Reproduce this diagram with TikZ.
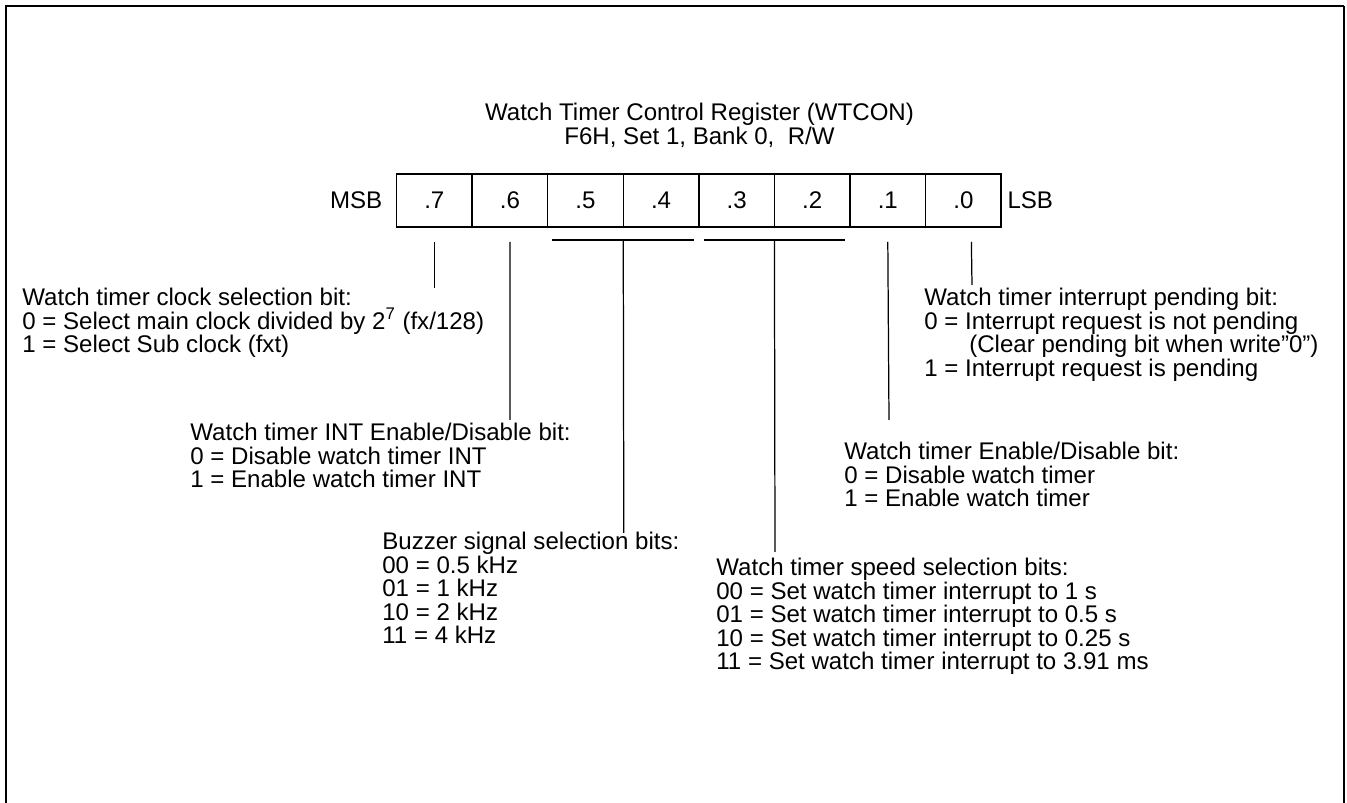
\documentclass[tikz,border=0pt]{standalone}
\usepackage{fontspec}
\setmainfont{Liberation Sans}
\usetikzlibrary{positioning}

\begin{document}
\begin{tikzpicture}[
  x=0.02cm,y=-0.02cm,
  font=\fontsize{13.7pt}{13.4pt}\selectfont,
  cell/.style={rectangle,draw,line width=0.8pt,minimum width=1.512cm,minimum height=1.06cm,inner sep=0pt,outer sep=0pt},
  side/.style={inner sep=0pt},
  note/.style={anchor=base west,align=left,inner sep=0pt},
  lead/.style={line width=0.7pt}
]
\useasboundingbox (0,0) rectangle (1347,803);
\draw[line width=1.2pt] (6,803) -- (6,6) -- (1344,6);
\draw[line width=0.6pt] (1344,6) -- (1344,803);

\node[align=center,anchor=base,inner sep=0pt] (title) at (699.5,144.5) {Watch Timer Control Register (WTCON)\\F6H, Set 1, Bank 0,\ \ R/W};

\node[cell] (b7) at (434.3,200.5) {.7};
\node[cell,right=0pt of b7] (b6) {.6};
\node[cell,right=0pt of b6] (b5) {.5};
\node[cell,right=0pt of b5] (b4) {.4};
\node[cell,right=0pt of b4] (b3) {.3};
\node[cell,right=0pt of b3] (b2) {.2};
\node[cell,right=0pt of b2] (b1) {.1};
\node[cell,right=0pt of b1] (b0) {.0};
\node[side,left=0.28cm of b7] (msb) {MSB};
\node[side,right=0.12cm of b0] (lsb) {LSB};

\coordinate (e7) at (434.3,288);
\coordinate (e6) at (510,420);
\coordinate (e54) at (623.8,533);
\coordinate (e32) at (775,552);
\coordinate (e1) at (889,420);
\coordinate (e0) at (972,285);
\draw[lead] ([yshift=-0.3cm]b7.south) -- (e7);
\draw[lead] ([yshift=-0.3cm]b6.south) -- (e6);
\draw[lead] ([shift={(0.08cm,-0.26cm)}]b5.south west) -- ([shift={(-0.09cm,-0.26cm)}]b4.south east);
\draw[lead] ([yshift=-0.26cm]b5.south east) -- (e54);
\draw[lead] ([shift={(0.11cm,-0.26cm)}]b3.south west) -- ([shift={(-0.1cm,-0.26cm)}]b2.south east);
\draw[lead] ([yshift=-0.26cm]b3.south east) -- (e32);
\draw[lead] ([yshift=-0.3cm]b1.south) -- (e1);
\draw[lead] ([shift={(0.16cm,-0.3cm)}]b0.south) -- (e0);

\node[note] (clk) at (22,352.7) {Watch timer clock selection bit:\\0 = Select main clock divided by 2\textsuperscript{7} (fx/128)\\1 = Select Sub clock (fxt)};
\node[note] (wtint) at (190,487.7) {Watch timer INT Enable/Disable bit:\\0 = Disable watch timer INT\\1 = Enable watch timer INT};
\node[note] (buz) at (382,643.9) {Buzzer signal selection bits:\\00 = 0.5 kHz\\01 = 1 kHz\\10 = 2 kHz\\11 = 4 kHz};
\node[note] (pend) at (924,376.3) {Watch timer interrupt pending bit:\\0 = Interrupt request is not pending\\\hspace*{0.9cm}(Clear pending bit when write"0")\\1 = Interrupt request is pending};
\node[note] (wten) at (844,506.7) {Watch timer Enable/Disable bit:\\0 = Disable watch timer\\1 = Enable watch timer};
\node[note] (speed) at (716,669.9) {Watch timer speed selection bits:\\00 = Set watch timer interrupt to 1 s\\01 = Set watch timer interrupt to 0.5 s\\10 = Set watch timer interrupt to 0.25 s\\11 = Set watch timer interrupt to 3.91 ms};
\end{tikzpicture}
\end{document}
